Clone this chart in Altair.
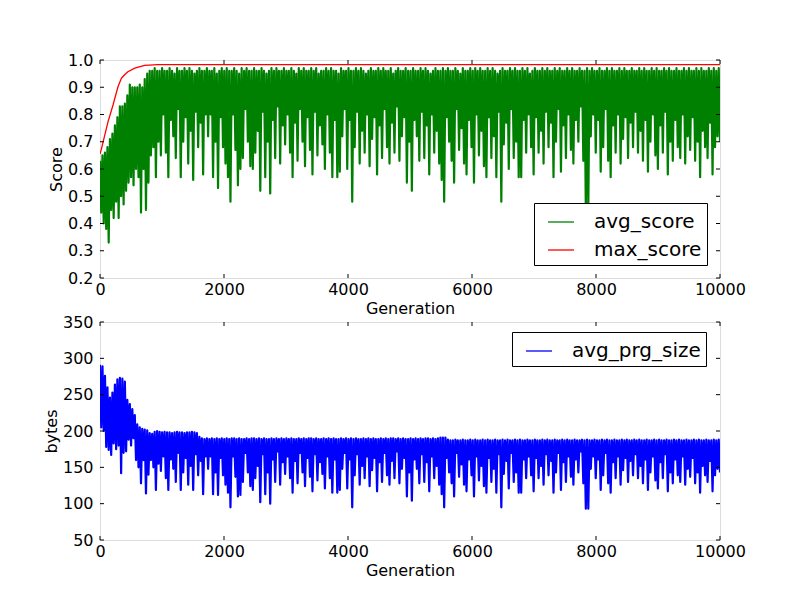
import altair as alt
import numpy as np
import pandas as pd

# ---- data (per 40-generation column: upper / lower extent) ----
# avg_score, in hundredths
score_hi = [
    63, 65, 66, 68, 71, 73, 76, 79, 83, 83, 84, 87, 91, 90, 90, 90, 91, 90, 93, 95, 96, 96, 97, 96, 96,
    97, 96, 96, 97, 96, 95, 97, 96, 96, 97, 96, 97, 96, 95, 96, 97, 96, 96, 97, 96, 96, 97, 95, 96, 97,
    96, 97, 96, 96, 97, 96, 95, 97, 96, 97, 96, 96, 97, 96, 96, 97, 96, 95, 96, 97, 96, 97, 96, 96, 97,
    96, 96, 97, 96, 95, 97, 96, 97, 96, 96, 97, 96, 97, 95, 96, 96, 97, 96, 97, 96, 96, 95, 97, 96, 96,
    97, 96, 96, 97, 96, 97, 96, 95, 96, 97, 96, 96, 97, 96, 97, 96, 96, 97, 95, 96, 97, 96, 96, 97, 96,
    96, 97, 96, 96, 97, 96, 97, 96, 95, 96, 97, 96, 96, 97, 96, 97, 96, 96, 97, 96, 95, 97, 96, 96, 97,
    96, 97, 96, 97, 96, 96, 97, 96, 97, 96, 95, 96, 97, 96, 96, 97, 96, 97, 96, 96, 97, 96, 97, 95, 96,
    97, 96, 96, 97, 96, 97, 96, 96, 97, 96, 97, 96, 96, 97, 96, 97, 96, 96, 97, 96, 96, 97, 96, 97, 96,
    96, 97, 96, 96, 97, 96, 97, 96, 96, 97, 96, 97, 96, 96, 97, 96, 96, 97, 96, 97, 96, 96, 97, 96, 97,
    96, 96, 97, 96, 97, 96, 96, 97, 96, 96, 97, 96, 97, 96, 96, 97, 96, 97, 96, 96, 97, 96, 97, 96, 97,
]
score_lo = [
    44, 40, 38, 33, 45, 42, 48, 42, 50, 47, 52, 55, 57, 54, 60, 57, 44, 60, 45, 55, 65, 68, 57, 70, 65,
    80, 66, 57, 78, 72, 64, 82, 57, 70, 79, 62, 74, 56, 81, 68, 77, 58, 80, 72, 80, 57, 70, 53, 79, 68,
    62, 57, 48, 80, 67, 54, 60, 64, 82, 70, 61, 60, 66, 74, 52, 81, 57, 70, 51, 78, 64, 83, 62, 76, 69,
    80, 66, 57, 77, 63, 82, 70, 61, 79, 67, 58, 81, 65, 76, 69, 60, 80, 66, 57, 78, 57, 59, 72, 82, 60,
    78, 48, 68, 81, 62, 74, 66, 80, 61, 71, 79, 58, 76, 64, 82, 68, 62, 77, 66, 83, 63, 72, 79, 55, 70,
    52, 78, 72, 63, 81, 64, 76, 58, 80, 66, 74, 62, 56, 48, 79, 70, 63, 55, 82, 67, 75, 62, 58, 78, 68,
    55, 80, 65, 74, 61, 57, 79, 64, 72, 57, 81, 48, 69, 77, 60, 82, 64, 70, 57, 57, 78, 66, 80, 68, 58,
    79, 66, 74, 62, 81, 68, 77, 57, 70, 82, 59, 76, 64, 80, 67, 62, 78, 70, 83, 63, 45, 45, 72, 80, 66,
    78, 59, 68, 82, 63, 57, 76, 66, 80, 62, 71, 79, 64, 77, 68, 81, 66, 74, 63, 78, 59, 70, 80, 65, 60,
    76, 66, 81, 58, 70, 63, 78, 68, 64, 80, 62, 72, 67, 79, 63, 70, 57, 74, 68, 64, 77, 58, 68, 72, 70,
]
# max_score
max_gen = [0, 20, 130, 210, 290, 345, 400, 450, 560, 720, 935, 10000]
max_val = [0.655, 0.671, 0.774, 0.835, 0.902, 0.933, 0.947, 0.957, 0.970, 0.980, 0.983, 0.983]
# avg_prg_size, bytes
bytes_hi = [
    291, 289, 276, 260, 246, 253, 264, 271, 273, 272, 268, 243, 237, 230, 222, 209, 205, 203, 202, 201, 197, 196, 199, 200, 199,
    198, 199, 198, 198, 197, 198, 199, 198, 198, 197, 198, 198, 199, 198, 197, 192, 190, 189, 190, 189, 190, 189, 190, 189, 190,
    189, 190, 189, 190, 190, 189, 190, 189, 189, 190, 189, 190, 190, 189, 190, 189, 190, 189, 189, 190, 189, 190, 189, 190, 189,
    190, 189, 190, 189, 189, 190, 189, 190, 189, 190, 190, 189, 190, 189, 189, 190, 189, 190, 189, 190, 189, 189, 190, 189, 190,
    189, 190, 189, 190, 189, 189, 190, 189, 190, 189, 190, 189, 189, 190, 189, 190, 189, 190, 190, 189, 190, 189, 190, 189, 189,
    190, 189, 190, 189, 190, 189, 190, 190, 189, 190, 189, 190, 191, 191, 191, 188, 187, 187, 188, 187, 187, 188, 187, 187, 188,
    187, 188, 187, 187, 188, 187, 188, 187, 187, 188, 187, 187, 188, 187, 188, 187, 187, 188, 187, 188, 187, 187, 188, 187, 187,
    188, 187, 187, 188, 187, 188, 187, 187, 188, 187, 187, 188, 187, 188, 187, 187, 188, 187, 187, 188, 187, 188, 187, 187, 188,
    187, 187, 188, 187, 188, 187, 187, 188, 187, 187, 188, 187, 188, 187, 187, 188, 187, 188, 187, 187, 188, 187, 187, 188, 187,
    188, 187, 187, 188, 187, 187, 188, 187, 188, 187, 187, 188, 187, 187, 188, 187, 188, 187, 187, 188, 187, 187, 188, 187, 188,
]
bytes_lo = [
    205, 200, 178, 174, 167, 183, 175, 180, 142, 170, 172, 188, 180, 190, 160, 150, 128, 160, 114, 140, 160, 150, 119, 155, 145,
    165, 135, 119, 161, 148, 130, 170, 119, 143, 163, 126, 152, 119, 168, 139, 159, 113, 165, 148, 165, 113, 143, 112, 163, 139,
    126, 115, 95, 165, 137, 110, 112, 130, 170, 143, 124, 119, 135, 152, 102, 168, 113, 143, 100, 161, 130, 172, 126, 157, 141,
    165, 135, 115, 159, 128, 170, 143, 124, 163, 137, 117, 168, 132, 157, 141, 121, 165, 135, 115, 161, 115, 119, 148, 170, 121,
    161, 95, 139, 168, 126, 152, 135, 165, 124, 146, 163, 117, 157, 130, 170, 139, 126, 159, 135, 172, 128, 148, 163, 110, 143,
    104, 161, 148, 128, 168, 130, 157, 117, 165, 135, 152, 126, 113, 95, 163, 143, 128, 110, 170, 137, 154, 126, 117, 161, 139,
    110, 165, 132, 152, 124, 115, 163, 130, 148, 115, 168, 95, 141, 159, 121, 170, 130, 143, 115, 115, 161, 135, 165, 139, 117,
    163, 135, 152, 126, 168, 139, 159, 115, 143, 170, 119, 157, 130, 165, 137, 126, 161, 143, 172, 128, 93, 93, 148, 165, 135,
    161, 119, 139, 170, 128, 115, 157, 135, 165, 126, 146, 163, 130, 159, 139, 168, 135, 152, 128, 161, 119, 143, 165, 132, 121,
    157, 135, 168, 117, 143, 128, 161, 139, 130, 165, 126, 148, 137, 163, 128, 143, 115, 152, 139, 130, 159, 117, 139, 148, 143,
]
x_ticks = [0, 2000, 4000, 6000, 8000, 10000]
score_ticks = [0.2, 0.3, 0.4, 0.5, 0.6, 0.7, 0.8, 0.9, 1.0]
bytes_ticks = [50, 100, 150, 200, 250, 300, 350]


def zigzag(hi, lo, div):
    vals = []
    for h, l in zip(hi, lo):
        vals.append(h / div)
        vals.append(l / div)
    gens = np.linspace(0, 10000, len(vals))
    return gens, vals


g1, v1 = zigzag(score_hi, score_lo, 100.0)
avg_df = pd.DataFrame({"gen": g1, "value": v1, "series": "avg_score"})
max_df = pd.DataFrame({"gen": max_gen, "value": max_val, "series": "max_score"})
g2, v2 = zigzag(bytes_hi, bytes_lo, 1.0)
bot_df = pd.DataFrame({"gen": g2, "value": v2, "series": "avg_prg_size"})

W, H = 620, 218
FS = 16
FONT = "DejaVu Sans"

xscale = alt.Scale(domain=[0, 10000], nice=False, zero=False)


def xaxis():
    return alt.Axis(values=x_ticks, format="d", ticks=False, domain=False, grid=False,
                    labelPadding=3, labelFlush=False, labelOverlap=False,
                    labelFont=FONT, titleFont=FONT, titleFontWeight="normal",
                    labelColor="black", titleColor="black",
                    title="Generation", titlePadding=3, labelFontSize=FS, titleFontSize=FS)


def yaxis(ticks, fmt, title):
    return alt.Axis(values=ticks, format=fmt, ticks=False, domain=False, grid=False,
                    labelPadding=7, labelFlush=False, labelOverlap=False,
                    labelFont=FONT, titleFont=FONT, titleFontWeight="normal",
                    labelColor="black", titleColor="black",
                    title=title, titlePadding=3, labelFontSize=FS, titleFontSize=FS)


def legend(x, y):
    return alt.Legend(orient="none", legendX=x, legendY=y, title=None,
                      strokeColor="black", fillColor="white", padding=5, cornerRadius=0,
                      labelFontSize=20, labelFont=FONT, labelColor="black",
                      symbolType="stroke", symbolSize=676, symbolStrokeWidth=1.3,
                      symbolOffset=8, labelOffset=19, rowPadding=4)


def panel(dfs, widths, yscale, yticks, yfmt, ytitle, cdomain, crange, lx, ly):
    color = alt.Color("series:N", scale=alt.Scale(domain=cdomain, range=crange),
                      legend=legend(lx, ly))
    layers = []
    for df, w in zip(dfs, widths):
        layers.append(alt.Chart(df).mark_line(clip=True, strokeJoin="round", strokeWidth=w).encode(
            x=alt.X("gen:Q", scale=xscale, axis=xaxis()),
            y=alt.Y("value:Q", scale=yscale, axis=yaxis(yticks, yfmt, ytitle)),
            color=color,
        ))
    xt = pd.DataFrame({"gen": x_ticks})
    yt = pd.DataFrame({"value": yticks})
    tx = alt.X("gen:Q", scale=xscale, axis=xaxis())
    ty = alt.Y("value:Q", scale=yscale, axis=yaxis(yticks, yfmt, ytitle))
    rule = dict(color="black", strokeWidth=1)
    t1 = alt.Chart(xt).mark_rule(**rule).encode(x=tx, y=alt.value(0), y2=alt.value(4))
    t2 = alt.Chart(xt).mark_rule(**rule).encode(x=tx, y=alt.value(H), y2=alt.value(H - 4))
    t3 = alt.Chart(yt).mark_rule(**rule).encode(y=ty, x=alt.value(0), x2=alt.value(4))
    t4 = alt.Chart(yt).mark_rule(**rule).encode(y=ty, x=alt.value(W), x2=alt.value(W - 4))
    return alt.layer(*layers, t1, t2, t3, t4).properties(width=W, height=H)


top = panel([avg_df, max_df], [2.2, 1.3], alt.Scale(domain=[0.2, 1.0], nice=False, zero=False),
            score_ticks, ".1f", "Score", ["avg_score", "max_score"], ["#008000", "#ff0000"], 434, 143)
bottom = panel([bot_df], [2.2], alt.Scale(domain=[50, 350], nice=False, zero=False),
               bytes_ticks, "d", "bytes", ["avg_prg_size"], ["#0000ff"], 412, 10)

chart = alt.vconcat(top, bottom, spacing=44, bounds="flush").resolve_scale(
    color="independent"
).properties(
    padding={"left": 34, "top": 43, "right": 5, "bottom": 5}
).configure_view(
    stroke="black", strokeWidth=1
).configure_axis(
    labelFont=FONT, titleFont=FONT, labelColor="black", titleColor="black",
    titleFontWeight="normal"
).configure(background="white")

chart.save("out.html", embed_options={"renderer": "svg", "actions": False})
